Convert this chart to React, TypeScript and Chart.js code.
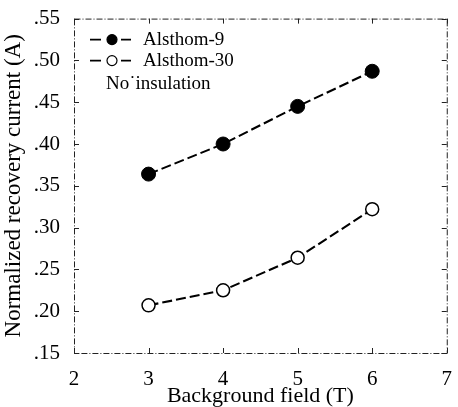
import React, { useEffect, useRef } from "react";
import { Chart, registerables } from "chart.js";

Chart.register(...registerables);

const fieldValues = [3, 4, 5, 6];
const alsthom9 = [0.364, 0.4, 0.445, 0.487];
const alsthom30 = [0.207, 0.225, 0.264, 0.322];
const seriesNames = ["Alsthom-9", "Alsthom-30"];
const noteText = "No\u02D9insulation";
const xTitle = "Background field (T)";
const yTitle = "Normalized recovery current (A)";

const SERIF = "'Liberation Serif', 'Times New Roman', serif";

export default function App() {
  const ref = useRef<HTMLCanvasElement | null>(null);

  useEffect(() => {
    const canvas = ref.current;
    if (!canvas) return;

    const framePlugin = {
      id: "frame",
      beforeDatasetsDraw(chart: any) {
        const { ctx, chartArea } = chart;
        const { left, right, top, bottom } = chartArea;
        const xs = chart.scales.x;
        const ys = chart.scales.y;
        ctx.save();
        ctx.strokeStyle = "#222";
        ctx.lineWidth = 1;
        ctx.setLineDash([6, 2, 1, 2]);
        ctx.strokeRect(left + 0.5, top + 0.5, right - left, bottom - top);
        ctx.setLineDash([]);
        const tl = 5;
        ctx.beginPath();
        for (let v = 2; v <= 7; v++) {
          const px = Math.round(xs.getPixelForValue(v)) + 0.5;
          ctx.moveTo(px, bottom);
          ctx.lineTo(px, bottom - tl);
          ctx.moveTo(px, top);
          ctx.lineTo(px, top + tl);
        }
        for (let i = 0; i <= 8; i++) {
          const v = 0.15 + i * 0.05;
          const py = Math.round(ys.getPixelForValue(v)) + 0.5;
          ctx.moveTo(left, py);
          ctx.lineTo(left + tl, py);
          ctx.moveTo(right, py);
          ctx.lineTo(right - tl, py);
        }
        ctx.stroke();
        ctx.restore();
      },
      afterDraw(chart: any) {
        const { ctx, chartArea } = chart;
        const x0 = chartArea.left;
        const rows = [
          { y: chartArea.top + 21, fill: "#000", label: seriesNames[0] },
          { y: chartArea.top + 42, fill: "#fff", label: seriesNames[1] },
        ];
        ctx.save();
        ctx.font = `19px ${SERIF}`;
        ctx.textBaseline = "middle";
        ctx.fillStyle = "#000";
        for (const r of rows) {
          ctx.strokeStyle = "#000";
          ctx.lineWidth = 1.6;
          ctx.beginPath();
          ctx.moveTo(x0 + 16, r.y);
          ctx.lineTo(x0 + 27, r.y);
          ctx.moveTo(x0 + 47, r.y);
          ctx.lineTo(x0 + 57, r.y);
          ctx.stroke();
          ctx.beginPath();
          ctx.arc(x0 + 38, r.y, 5, 0, Math.PI * 2);
          ctx.fillStyle = r.fill;
          ctx.fill();
          ctx.lineWidth = 1.2;
          ctx.stroke();
          ctx.fillStyle = "#000";
          ctx.fillText(r.label, x0 + 69, r.y);
        }
        ctx.fillText(noteText, x0 + 32, chartArea.top + 65);
        ctx.restore();
      },
    };

    const chart = new Chart(canvas, {
      type: "line",
      data: {
        datasets: [
          {
            label: seriesNames[0],
            data: fieldValues.map((x, i) => ({ x, y: alsthom9[i] })),
            borderColor: "#000",
            borderWidth: 2.1,
            borderDash: [10, 4],
            pointRadius: 7,
            pointBackgroundColor: "#000",
            pointBorderColor: "#000",
            pointBorderWidth: 1,
            fill: false,
          },
          {
            label: seriesNames[1],
            data: fieldValues.map((x, i) => ({ x, y: alsthom30[i] })),
            borderColor: "#000",
            borderWidth: 2.1,
            borderDash: [10, 4],
            pointRadius: 6.5,
            pointBackgroundColor: "#fff",
            pointBorderColor: "#000",
            pointBorderWidth: 1.5,
            fill: false,
          },
        ],
      },
      options: {
        responsive: false,
        animation: false,
        layout: { padding: { top: 15, right: 5, left: 0, bottom: 0 } },
        plugins: {
          legend: { display: false },
          tooltip: { enabled: false },
        },
        scales: {
          x: {
            type: "linear",
            min: 2,
            max: 7,
            grid: { display: false },
            border: { display: false },
            ticks: {
              stepSize: 1,
              color: "#000",
              padding: 6,
              font: { family: SERIF, size: 21 },
            },
            title: {
              display: true,
              text: xTitle,
              color: "#000",
              font: { family: SERIF, size: 22 },
              padding: { top: 0, bottom: -2 },
            },
            afterFit(scale: any) {
              scale.height = 54;
            },
          },
          y: {
            type: "linear",
            min: 0.15,
            max: 0.55,
            grid: { display: false },
            border: { display: false },
            ticks: {
              stepSize: 0.05,
              color: "#000",
              padding: 6,
              font: { family: SERIF, size: 21 },
              callback: (v: any) => (Math.round(Number(v) * 100) / 100).toFixed(2).replace(/^0/, ""),
            },
            title: {
              display: true,
              text: yTitle,
              color: "#000",
              font: { family: SERIF, size: 23 },
              padding: { top: 0, bottom: 0 },
            },
            afterFit(scale: any) {
              scale.width = 74;
            },
          },
        },
      },
      plugins: [framePlugin],
    });

    return () => chart.destroy();
  }, []);

  return (
    <div style={{ position: "absolute", left: 0, top: 0, width: 458, height: 407, background: "#fff" }}>
      <canvas ref={ref} width={458} height={407} style={{ display: "block" }} />
    </div>
  );
}
